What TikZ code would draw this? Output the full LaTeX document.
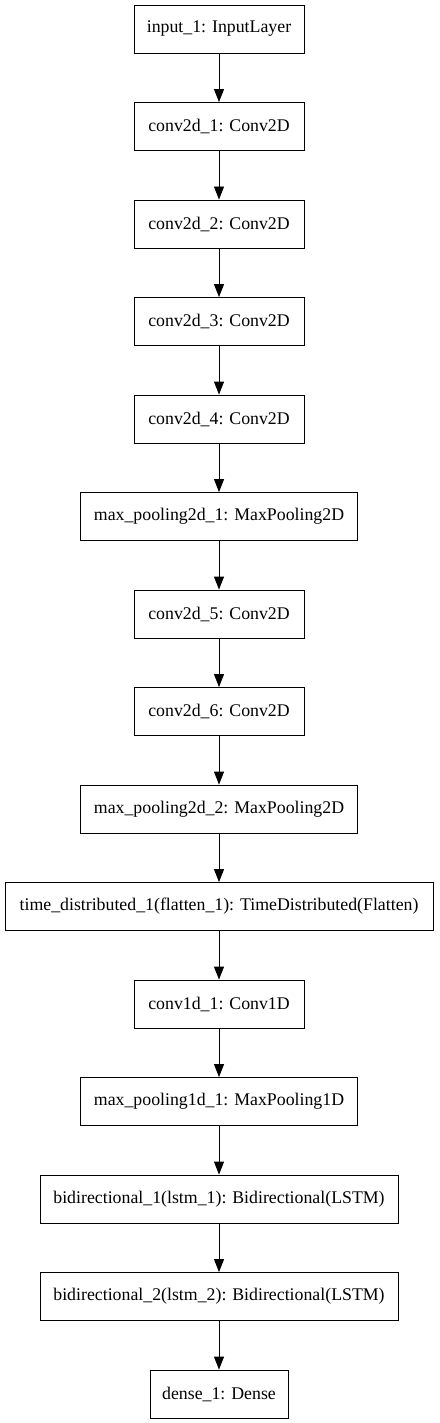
\documentclass[tikz,border=0pt]{standalone}
\usepackage{fontspec}
\setmainfont{Liberation Serif}
\usetikzlibrary{arrows.meta}
\begin{document}
\begin{tikzpicture}[x=1pt,y=1pt,
  layer/.style={draw, line width=0.9pt, minimum height=48pt, inner sep=0pt, font=\fontsize{17.8}{20}\selectfont},
  conn/.style={line width=0.9pt, -{Triangle[length=13pt,width=10pt]}}]
\useasboundingbox (0,0) rectangle (439,-1423);
\def\yy#1{-29-97.5*#1}
\node[layer, minimum width=170pt] (n0) at (219,{\yy{0}}) {input\_1: InputLayer};
\node[layer, minimum width=170pt] (n1) at (219,{\yy{1}}) {conv2d\_1: Conv2D};
\node[layer, minimum width=170pt] (n2) at (219,{\yy{2}}) {conv2d\_2: Conv2D};
\node[layer, minimum width=170pt] (n3) at (219,{\yy{3}}) {conv2d\_3: Conv2D};
\node[layer, minimum width=170pt] (n4) at (219,{\yy{4}}) {conv2d\_4: Conv2D};
\node[layer, minimum width=277pt] (n5) at (219,{\yy{5}}) {max\_pooling2d\_1: MaxPooling2D};
\node[layer, minimum width=170pt] (n6) at (219,{\yy{6}}) {conv2d\_5: Conv2D};
\node[layer, minimum width=170pt] (n7) at (219,{\yy{7}}) {conv2d\_6: Conv2D};
\node[layer, minimum width=277pt] (n8) at (219,{\yy{8}}) {max\_pooling2d\_2: MaxPooling2D};
\node[layer, minimum width=428pt] (n9) at (219,{\yy{9}}) {time\_distributed\_1(flatten\_1): TimeDistributed(Flatten)};
\node[layer, minimum width=170pt] (n10) at (219,{\yy{10}}) {conv1d\_1: Conv1D};
\node[layer, minimum width=277pt] (n11) at (219,{\yy{11}}) {max\_pooling1d\_1: MaxPooling1D};
\node[layer, minimum width=358pt] (n12) at (219,{\yy{12}}) {bidirectional\_1(lstm\_1): Bidirectional(LSTM)};
\node[layer, minimum width=358pt] (n13) at (219,{\yy{13}}) {bidirectional\_2(lstm\_2): Bidirectional(LSTM)};
\node[layer, minimum width=138pt] (n14) at (219,{\yy{14}}) {dense\_1: Dense};
\foreach \a [evaluate=\a as \b using int(\a+1)] in {0,...,13}
  \draw[conn] (n\a.south) -- (n\b.north);
\end{tikzpicture}
\end{document}
